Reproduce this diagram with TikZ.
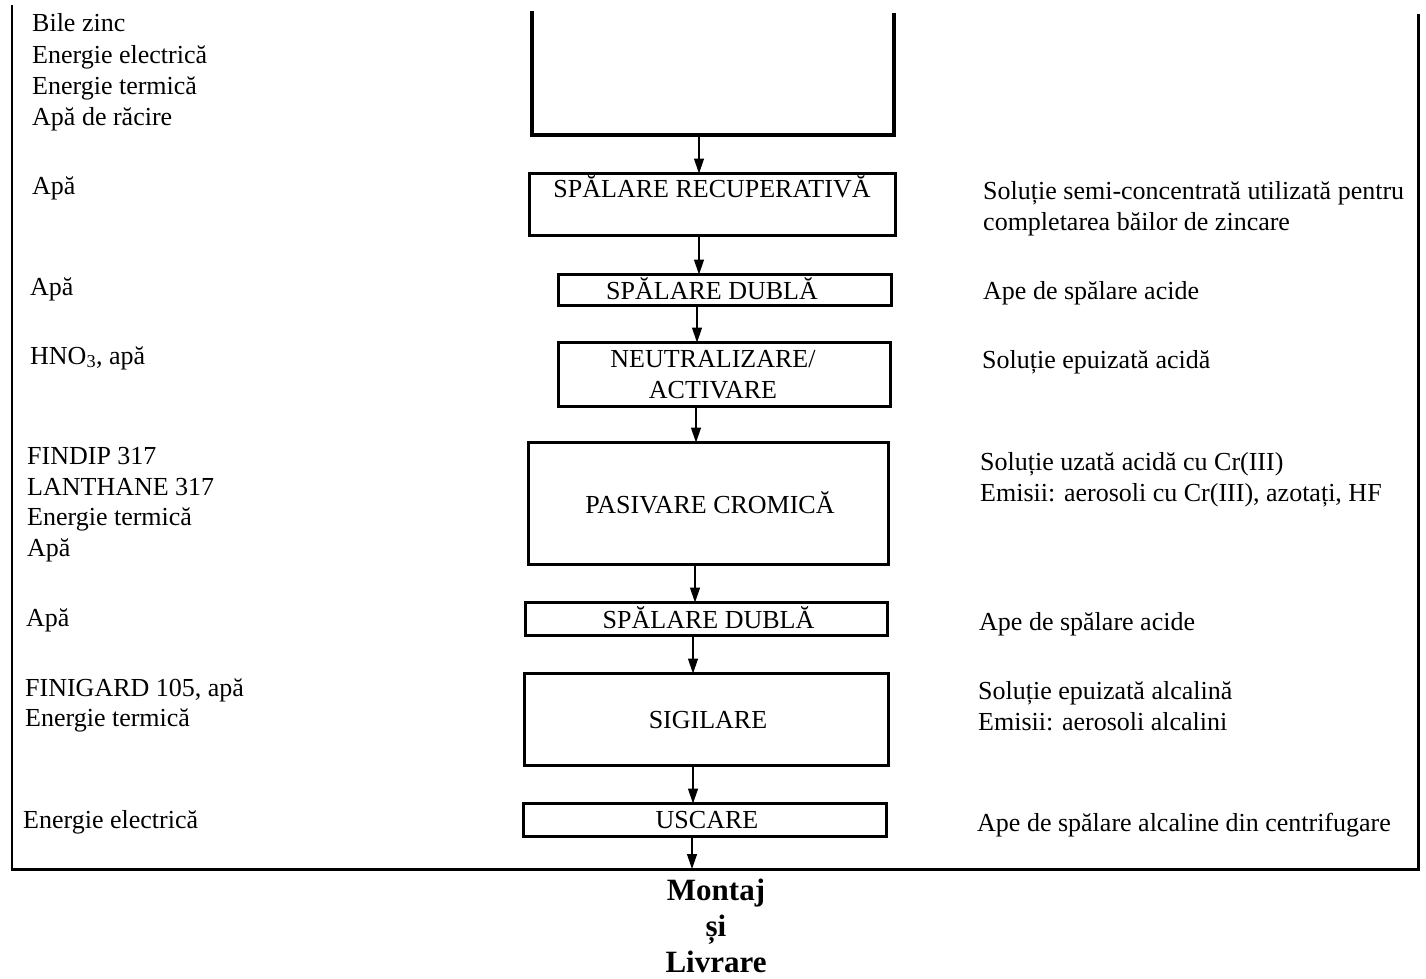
\documentclass[tikz,border=0pt]{standalone}
\usepackage{fontspec}
\setmainfont{Liberation Serif}
\usetikzlibrary{arrows.meta}
\begin{document}
\begin{tikzpicture}[x=1pt,y=-1pt,
  body/.style={font=\fontsize{26}{31}\selectfont},
  % multi-line texts are placed by the baseline of their last line
  txt/.style={body, inner sep=0pt, align=left, anchor=base west},
  stepbox/.style={draw, line width=3.8pt, inner sep=0pt},
  steptext/.style={body, inner sep=0pt, align=center, anchor=base},
  flow/.style={line width=1.3pt, -{Triangle[length=15pt,width=10pt]}},
  frameline/.style={line width=2.6pt},
]
\useasboundingbox (0,0) rectangle (1426,979);

% outer frame (open at the top)
\node (frame) [minimum width=1406pt, minimum height=864pt, inner sep=0pt] at (715,437) {};
\draw[frameline] (frame.north west) -- (frame.south west) -- (frame.south east) -- ([yshift=-9pt]frame.north east);
\coordinate (exit) at (692,869);

% zinc plating bath (open at the top)
\node (melt) [minimum width=362pt, minimum height=124pt, inner sep=0pt] at (713,73) {};
\draw[line width=3.8pt] (melt.north west) -- (melt.south west) -- (melt.south east) -- ([yshift=-2pt]melt.north east);

% process steps
\node[stepbox, minimum width=366pt, minimum height=62pt] (rec)  at (712.5,204.5) {};
\node[stepbox, minimum width=333pt, minimum height=31pt] (dub1) at (725,290) {};
\node[stepbox, minimum width=332pt, minimum height=64pt] (neut) at (724.5,374.5) {};
\node[stepbox, minimum width=360pt, minimum height=122pt] (pas) at (708.5,503.5) {};
\node[stepbox, minimum width=362pt, minimum height=33pt] (dub2) at (706.5,619) {};
\node[stepbox, minimum width=364pt, minimum height=92pt] (sig) at (706.5,719.5) {};
\node[stepbox, minimum width=363pt, minimum height=33pt] (usc) at (705,820) {};

\node[steptext] (recT)  at (712,197) {SPĂLARE RECUPERATIVĂ};
\node[steptext] (dub1T) at (712,299) {SPĂLARE DUBLĂ};
\node[steptext] (neutT) at (713,398) {NEUTRALIZARE/\\ACTIVARE};
\node[steptext] (pasT)  at (710,513) {PASIVARE CROMICĂ};
\node[steptext] (dub2T) at (708.5,628) {SPĂLARE DUBLĂ};
\node[steptext] (sigT)  at (708,728) {SIGILARE};
\node[steptext] (uscT)  at (707,828) {USCARE};

% arrow columns
\coordinate (c1) at (699,0);
\coordinate (c2) at (699,0);
\coordinate (c3) at (697,0);
\coordinate (c4) at (696,0);
\coordinate (c5) at (695,0);
\coordinate (c6) at (693,0);
\coordinate (c7) at (693,0);

\draw[flow] (melt.south -| c1) -- ([yshift=-1.9pt]rec.north -| c1);
\draw[flow] ([yshift=1.9pt]rec.south -| c2) -- ([yshift=-1.9pt]dub1.north -| c2);
\draw[flow] ([yshift=1.9pt]dub1.south -| c3) -- ([yshift=-1.9pt]neut.north -| c3);
\draw[flow] ([yshift=1.9pt]neut.south -| c4) -- ([yshift=-1.9pt]pas.north -| c4);
\draw[flow] ([yshift=1.9pt]pas.south -| c5) -- ([yshift=-1.9pt]dub2.north -| c5);
\draw[flow] ([yshift=1.9pt]dub2.south -| c6) -- ([yshift=-1.9pt]sig.north -| c6);
\draw[flow] ([yshift=1.9pt]sig.south -| c7) -- ([yshift=-1.9pt]usc.north -| c7);
\draw[flow] ([yshift=1.9pt]usc.south -| exit) -- (exit);

% inputs
\node[txt] (in1) at (32,125) {Bile zinc\\Energie electrică\\Energie termică\\Apă de răcire};
\node[txt] (in2) at (32,194) {Apă};
\node[txt] (in3) at (30,295) {Apă};
\node[txt] (in4) at (30,364) {HNO\textsubscript{3}, apă};
\node[txt, font=\fontsize{26}{30.4}\selectfont] (in5) at (27,556) {FINDIP 317\\LANTHANE 317\\Energie termică\\Apă};
\node[txt, font=\fontsize{26}{30}\selectfont] (in6) at (26,626) {Apă};
\node[txt, font=\fontsize{26}{30}\selectfont] (in7) at (25,726) {FINIGARD 105, apă\\Energie termică};
\node[txt] (in8) at (23,828) {Energie electrică};

% outputs
\node[txt] (out1) at (983,230) {Soluție semi-concentrată utilizată pentru\\completarea băilor de zincare};
\node[txt] (out2) at (983,299) {Ape de spălare acide};
\node[txt] (out3) at (982,368) {Soluție epuizată acidă};
\node[txt] (out4) at (980,501) {Soluție uzată acidă cu Cr(III)\\Emisii: aerosoli cu Cr(III), azotați, HF};
\node[txt] (out5) at (979,630) {Ape de spălare acide};
\node[txt] (out6) at (978,730) {Soluție epuizată alcalină\\Emisii: aerosoli alcalini};
\node[txt] (out7) at (977,831) {Ape de spălare alcaline din centrifugare};

% destination
\node[font=\bfseries\fontsize{31}{36}\selectfont, inner sep=0pt, align=center, anchor=base] (dest) at (716,972) {Montaj\\și\\Livrare};
\end{tikzpicture}
\end{document}
